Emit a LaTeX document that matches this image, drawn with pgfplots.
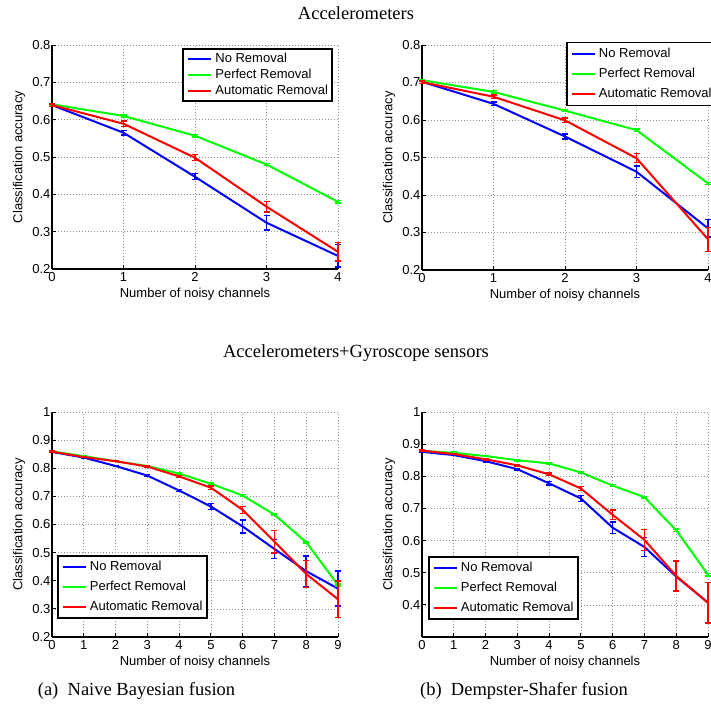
\documentclass[border=0pt]{standalone}
\usepackage{fontspec}
\setmainfont{Liberation Serif}
\setsansfont{Liberation Sans}
\usepackage{pgfplots}
\pgfplotsset{compat=1.18}
\newcommand\axfont{\sffamily\fontsize{13}{15}\selectfont}
\newcommand\ttlfont{\rmfamily\fontsize{18.5}{22}\selectfont}
\pgfplotsset{
  myax/.style={
    scale only axis, width=286pt, clip=false,
    axis x line*=bottom, axis y line*=left,
    axis line style={line width=2pt, black},
    tick align=inside, major tick length=4pt,
    every tick/.style={black, line width=0.8pt},
    grid=major,
    grid style={gray!85, line width=0.7pt, dash pattern=on 0.7pt off 2.3pt},
    tick label style={font=\axfont},
    label style={font=\axfont},
    /pgf/number format/assume math mode=true,
    xlabel={Number of noisy channels},
    ylabel={Classification accuracy},
    xlabel style={at={(axis description cs:0.5,-0.111)}, anchor=center},
    ylabel style={at={(axis description cs:-0.1154,0.5)}, anchor=center},
    yticklabel style={xshift=2pt},
    legend cell align=left,
    legend style={font=\axfont, draw=black, line width=1.8pt, fill=white,
      inner xsep=4pt, inner ysep=5pt, row sep=8pt, column sep=3pt,
      nodes={inner sep=0pt, text height=9.5pt, text depth=2.5pt}},
    legend image code/.code={\draw[##1, line width=2pt] (0pt,0pt) -- (23pt,0pt);},
  },
  ln/.style={line width=2pt, no markers},
  eb/.style={error bars/.cd, y dir=both, y explicit,
    error bar style={line width=1.6pt, solid},
    error mark options={rotate=90, line width=1.4pt, mark size=3pt}},
}
\begin{document}
\begin{tikzpicture}
% ---------- panel 1 ----------
\begin{axis}[myax, height=224pt, at={(52pt,439pt)}, anchor=south west,
  xmin=0, xmax=4, ymin=0.2, ymax=0.8,
  xtick={0,1,2,3,4}, ytick={0.2,0.3,0.4,0.5,0.6,0.7,0.8},
  legend style={at={(axis description cs:0.9825,0.9866)}, anchor=north east,
    row sep=4pt, inner ysep=4pt}]
\addplot[blue, ln, eb] coordinates {
 (0,0.639) +- (0,0.004) (1,0.565) +- (0,0.006) (2,0.447) +- (0,0.008)
 (3,0.324) +- (0,0.020) (4,0.235) +- (0,0.030)};
\addplot[green, ln, eb] coordinates {
 (0,0.641) +- (0,0.002) (1,0.610) +- (0,0.003) (2,0.557) +- (0,0.003)
 (3,0.480) +- (0,0.003) (4,0.380) +- (0,0.003)};
\addplot[red, ln, eb] coordinates {
 (0,0.639) +- (0,0.003) (1,0.589) +- (0,0.007) (2,0.498) +- (0,0.008)
 (3,0.367) +- (0,0.014) (4,0.246) +- (0,0.025)};
\legend{No Removal, Perfect Removal, Automatic Removal}
\end{axis}
% ---------- panel 2 ----------
\begin{axis}[myax, height=225pt, at={(422pt,438pt)}, anchor=south west,
  xmin=0, xmax=4, ymin=0.2, ymax=0.8,
  xtick={0,1,2,3,4}, ytick={0.2,0.3,0.4,0.5,0.6,0.7,0.8},
  legend style={at={(axis description cs:0.5035,1.0147)}, anchor=north west,
    inner ysep=5.5pt}]
\addplot[blue, ln, eb] coordinates {
 (0,0.702) +- (0,0.004) (1,0.643) +- (0,0.005) (2,0.556) +- (0,0.007)
 (3,0.462) +- (0,0.015) (4,0.311) +- (0,0.023)};
\addplot[green, ln, eb] coordinates {
 (0,0.706) +- (0,0.002) (1,0.675) +- (0,0.003) (2,0.625) +- (0,0.003)
 (3,0.573) +- (0,0.003) (4,0.431) +- (0,0.003)};
\addplot[red, ln, eb] coordinates {
 (0,0.701) +- (0,0.003) (1,0.662) +- (0,0.005) (2,0.599) +- (0,0.006)
 (3,0.498) +- (0,0.012) (4,0.282) +- (0,0.032)};
\legend{No Removal, Perfect Removal, Automatic Removal}
\end{axis}
% ---------- panel 3 ----------
\begin{axis}[myax, height=225pt, at={(52pt,71pt)}, anchor=south west,
  xmin=0, xmax=9, ymin=0.2, ymax=1,
  xtick={0,1,2,3,4,5,6,7,8,9}, ytick={0.2,0.3,0.4,0.5,0.6,0.7,0.8,0.9,1},
  legend style={at={(axis description cs:0.0175,0.08)}, anchor=south west}]
\addplot[blue, ln, eb] coordinates {
 (0,0.858) +- (0,0.002) (1,0.838) +- (0,0.002) (2,0.808) +- (0,0.002)
 (3,0.774) +- (0,0.003) (4,0.721) +- (0,0.004) (5,0.664) +- (0,0.011)
 (6,0.593) +- (0,0.023) (7,0.513) +- (0,0.033) (8,0.434) +- (0,0.054)
 (9,0.372) +- (0,0.062)};
\addplot[green, ln, eb] coordinates {
 (0,0.860) +- (0,0.002) (1,0.843) +- (0,0.002) (2,0.825) +- (0,0.002)
 (3,0.808) +- (0,0.002) (4,0.781) +- (0,0.002) (5,0.745) +- (0,0.002)
 (6,0.703) +- (0,0.003) (7,0.635) +- (0,0.003) (8,0.537) +- (0,0.003)
 (9,0.385) +- (0,0.004)};
\addplot[red, ln, eb] coordinates {
 (0,0.859) +- (0,0.002) (1,0.840) +- (0,0.002) (2,0.825) +- (0,0.002)
 (3,0.806) +- (0,0.003) (4,0.771) +- (0,0.004) (5,0.731) +- (0,0.006)
 (6,0.652) +- (0,0.012) (7,0.539) +- (0,0.040) (8,0.424) +- (0,0.048)
 (9,0.334) +- (0,0.065)};
\legend{No Removal, Perfect Removal, Automatic Removal}
\end{axis}
% ---------- panel 4 ----------
\begin{axis}[myax, height=225pt, at={(422pt,71pt)}, anchor=south west,
  xmin=0, xmax=9, ymin=0.3, ymax=1,
  xtick={0,1,2,3,4,5,6,7,8,9}, ytick={0.4,0.5,0.6,0.7,0.8,0.9,1},
  legend style={at={(axis description cs:0.021,0.0756)}, anchor=south west}]
\addplot[blue, ln, eb] coordinates {
 (0,0.876) +- (0,0.002) (1,0.866) +- (0,0.002) (2,0.847) +- (0,0.002)
 (3,0.822) +- (0,0.003) (4,0.778) +- (0,0.005) (5,0.731) +- (0,0.010)
 (6,0.640) +- (0,0.018) (7,0.580) +- (0,0.030) (8,0.488) +- (0,0.047)
 (9,0.407) +- (0,0.063)};
\addplot[green, ln, eb] coordinates {
 (0,0.879) +- (0,0.002) (1,0.873) +- (0,0.002) (2,0.863) +- (0,0.002)
 (3,0.850) +- (0,0.002) (4,0.840) +- (0,0.002) (5,0.812) +- (0,0.003)
 (6,0.771) +- (0,0.003) (7,0.735) +- (0,0.003) (8,0.632) +- (0,0.004)
 (9,0.494) +- (0,0.004)};
\addplot[red, ln, eb] coordinates {
 (0,0.880) +- (0,0.002) (1,0.869) +- (0,0.002) (2,0.853) +- (0,0.002)
 (3,0.834) +- (0,0.003) (4,0.806) +- (0,0.004) (5,0.762) +- (0,0.006)
 (6,0.680) +- (0,0.015) (7,0.602) +- (0,0.032) (8,0.490) +- (0,0.047)
 (9,0.406) +- (0,0.063)};
\legend{No Removal, Perfect Removal, Automatic Removal}
\end{axis}
% ---------- titles and captions ----------
\node[font=\ttlfont, anchor=base] at (356pt,688pt) {Accelerometers};
\node[font=\ttlfont, anchor=base] at (356pt,350pt) {Accelerometers+Gyroscope sensors};
\node[font=\ttlfont, anchor=base] at (136.5pt,12pt) {(a)\ \ Naive Bayesian fusion};
\node[font=\ttlfont, anchor=base] at (524pt,12pt) {(b)\ \ Dempster-Shafer fusion};
\pgfresetboundingbox
\useasboundingbox (0pt,0pt) rectangle (711pt,708pt);
\end{tikzpicture}
\end{document}
